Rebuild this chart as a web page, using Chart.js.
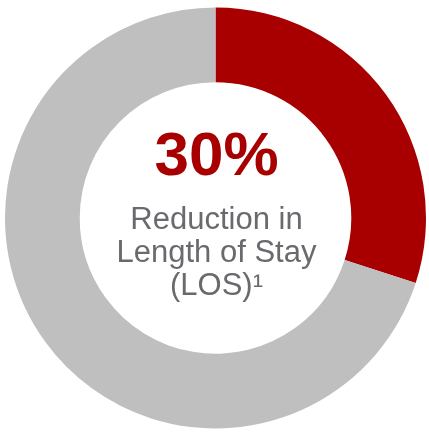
<!DOCTYPE html>
<html>
<head>
<meta charset="utf-8">
<script src="https://cdn.jsdelivr.net/npm/chart.js@4"></script>
<style>
  html, body { margin: 0; padding: 0; background: #fff; }
  #wrap { width: 429px; height: 432px; }
</style>
</head>
<body>
<div id="wrap"><canvas id="losChart" width="429" height="432"></canvas></div>
<script>
// data
const categories = ['Reduction in LOS', 'Remaining'];
const values = [30, 70];
const sliceColors = ['#A80000', '#BFBFBF'];
const headline = '30%';
const captionLines = ['Reduction in', 'Length of Stay', '(LOS)\u00B9'];

// center label drawn after the ring
const centerText = {
    id: 'centerText',
    afterDraw(chart) {
        const ctx = chart.ctx;
        const meta = chart.getDatasetMeta(0).data[0];
        const cx = meta.x, cy = meta.y;
        ctx.save();
        ctx.textAlign = 'center';
        ctx.textBaseline = 'alphabetic';
        ctx.fillStyle = '#A80000';
        ctx.font = 'bold 62px "Liberation Sans", Arial, sans-serif';
        ctx.fillText(headline, cx + 1, cy - 43);
        ctx.fillStyle = '#6A6A6E';
        ctx.font = '31px "Liberation Sans", Arial, sans-serif';
        captionLines.forEach((line, i) => {
            ctx.fillText(line, cx + 1, cy + 11 + i * 33);
        });
        ctx.restore();
    }
};

new Chart(document.getElementById('losChart').getContext('2d'), {
    type: 'doughnut',
    data: {
        labels: categories,
        datasets: [{
            data: values,
            backgroundColor: sliceColors,
            borderWidth: 0
        }]
    },
    options: {
        responsive: false,
        animation: false,
        cutout: '64.5%',
        layout: { padding: { left: 5, right: 3, top: 7, bottom: 3 } },
        plugins: {
            legend: { display: false },
            tooltip: { enabled: false }
        }
    },
    plugins: [centerText]
});
</script>
</body>
</html>
